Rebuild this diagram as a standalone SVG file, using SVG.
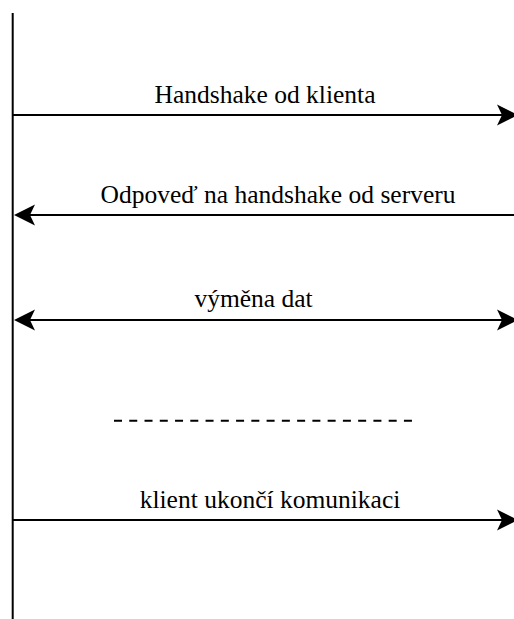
<svg xmlns="http://www.w3.org/2000/svg" width="514" height="619" viewBox="0 0 514 619">
<style>
.ln{stroke:#000;stroke-width:2;fill:none}
.lb{font-family:"Liberation Serif","Times New Roman",serif;font-size:25.5px;fill:#000;text-anchor:middle}
</style>
<defs>
<marker id="ah" markerUnits="userSpaceOnUse" markerWidth="24" markerHeight="24" viewBox="-22 -12 24 24" refX="-16" refY="0" orient="auto-start-reverse">
<path d="M0,0 L-21,-10.5 L-16,0 L-21,10.5 Z" fill="#000"/>
</marker>
</defs>
<rect width="514" height="619" fill="#fff"/>
<g id="lifeline">
<line class="ln" x1="12.7" y1="13" x2="12.7" y2="619"/>
</g>
<g id="connectors">
<line class="ln" x1="12.7" y1="115" x2="502" y2="115" marker-end="url(#ah)"/>
<line class="ln" x1="514" y1="215" x2="30" y2="215" marker-end="url(#ah)"/>
<line class="ln" x1="30" y1="320" x2="502" y2="320" marker-start="url(#ah)" marker-end="url(#ah)"/>
<line class="ln" x1="114" y1="420.7" x2="412" y2="420.7" stroke-dasharray="8 7.26"/>
<line class="ln" x1="12.7" y1="520" x2="502" y2="520" marker-end="url(#ah)"/>
</g>
<g id="labels">
<text class="lb" x="265" y="103">Handshake od klienta</text>
<text class="lb" x="278" y="203">Odpoveď na handshake od serveru</text>
<text class="lb" x="253.5" y="307">výměna dat</text>
<text class="lb" x="270" y="508">klient ukončí komunikaci</text>
</g>
</svg>
